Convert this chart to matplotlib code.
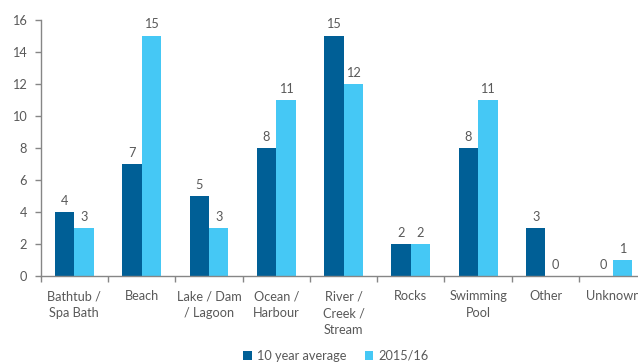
import matplotlib
matplotlib.use("Agg")
import matplotlib.pyplot as plt
import numpy as np

categories = ["Bathtub /\nSpa Bath", "Beach", "Lake / Dam\n/ Lagoon", "Ocean /\nHarbour",
              "River /\nCreek /\nStream", "Rocks", "Swimming\nPool", "Other", "Unknown"]
avg10 = [4, 7, 5, 8, 15, 2, 8, 3, 0]
y2015 = [3, 15, 3, 11, 12, 2, 11, 0, 1]
series_names = ["10 year average", "2015/16"]
yticks = [0, 2, 4, 6, 8, 10, 12, 14, 16]

plt.rcParams['font.family'] = ['Lato', 'DejaVu Sans']
TXT = '#595959'
AX = '#868686'
DARK = '#005F96'
LIGHT = '#45C8F5'

fig = plt.figure(figsize=(6.38, 3.63), dpi=100)
W, H = 638, 363
left, right = 40.7, 646.4
top, bottom = 20.0, 276.3
ax = fig.add_axes([left / W, 1 - bottom / H, (right - left) / W, (bottom - top) / H])

x = np.arange(len(categories))
bw = 0.288
b1 = ax.bar(x - bw / 2, avg10, bw, color=DARK, label=series_names[0])
b2 = ax.bar(x + bw / 2, y2015, bw, color=LIGHT, label=series_names[1])
for bars, vals in ((b1, avg10), (b2, y2015)):
    for r, v in zip(bars, vals):
        ax.annotate(str(v), (r.get_x() + r.get_width() / 2, v), xytext=(0, 4),
                    textcoords='offset points', ha='center', va='bottom',
                    fontsize=9.2, color=TXT)

ax.set_xlim(-0.5, len(categories) - 0.5)
ax.set_ylim(0, 16)
ax.set_yticks(yticks)
ax.set_yticklabels([str(t) for t in yticks], fontsize=9.2, color=TXT)
ax.set_xticks(x)
ax.set_xticklabels(categories, fontsize=9.2, color=TXT, linespacing=1.5)
ax.set_xticks(np.arange(len(categories) + 1) - 0.5, minor=True)
ax.tick_params(axis='x', which='major', length=0, pad=10)
ax.tick_params(axis='x', which='minor', length=4, color=AX, width=1)
ax.tick_params(axis='y', length=4, color=AX, width=1, pad=6)
for s in ('top', 'right'):
    ax.spines[s].set_visible(False)
for s in ('left', 'bottom'):
    ax.spines[s].set_color(AX)
    ax.spines[s].set_linewidth(1)

leg = fig.legend(handles=[b1, b2], loc='center', bbox_to_anchor=(336 / W, 1 - 356 / H),
                 ncol=2, frameon=False, fontsize=9.2, handlelength=0.7, handleheight=0.7,
                 columnspacing=1.4, handletextpad=0.4, labelcolor=TXT)

fig.savefig("out.png", dpi=100)
